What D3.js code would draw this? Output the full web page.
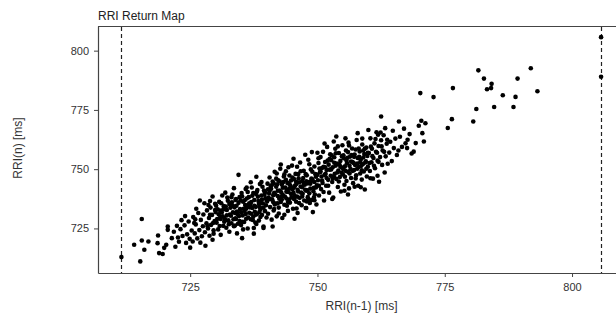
<!DOCTYPE html>
<html>
<head>
<meta charset="utf-8">
<script src="https://cdn.jsdelivr.net/npm/d3@7"></script>
<style>
  body { margin: 0; background: #fff; }
  #chart svg { display: block; font-family: "Liberation Sans", Arial, sans-serif; }
</style>
</head>
<body>
<div id="chart"></div>
<script>
// Data: RR interval return map, [RRI(n-1), RRI(n)] in ms
const rrPairs = [
  [711.5,712.9],[715.2,711.1],[715.5,729.0],[714.0,718.1],[715.5,719.9],[716.8,719.5],[716.0,716.0],
  [718.9,714.6],[719.6,714.2],[718.6,718.8],[720.3,718.1],[718.7,722.0],[720.6,725.8],[720.6,724.4],
  [721.4,720.9],[722.1,717.3],[721.8,723.6],[719.9,716.8],[722.6,721.2],
  [722.8,719.4],[723.1,724.7],[723.5,721.8],[723.9,726.3],[724.2,718.9],[724.4,722.5],[724.7,727.9],
  [724.9,720.6],[725.3,724.1],[725.5,719.5],[725.6,729.8],[725.9,722.9],[726.1,726.7],[726.4,720.8],
  [726.6,731.5],[726.9,736.8],[726.8,724.3],[727.1,728.6],[727.3,721.7],[727.5,725.9],[727.6,730.9],
  [727.9,723.4],[728.0,717.7],[728.2,727.2],[728.3,732.6],[728.5,725.0],[728.7,729.4],[728.8,721.9],
  [729.0,733.8],[729.1,726.5],[729.4,720.2],[729.4,738.5],[729.3,730.7],[729.6,724.2],[729.8,728.1],
  [729.9,735.4],[730.0,731.9],[724.0,730.2],[725.0,716.9],[726.2,733.3],[727.0,719.0],[728.6,734.9],
  [723.3,728.5],[722.4,726.1],[726.0,728.9],[727.8,735.6],[729.6,722.8],[728.9,736.6],[725.8,727.3],
  [730.2,727.4],[730.4,733.1],[730.5,724.6],[730.7,736.2],[730.9,729.8],[731.0,722.3],[731.2,731.7],
  [731.3,738.9],[731.5,726.1],[731.6,734.4],[731.8,729.0],[731.9,740.1],[732.1,725.3],[732.2,732.8],
  [732.4,736.7],[732.5,728.4],[732.7,723.6],[732.8,730.9],[733.0,735.1],[733.1,727.2],[733.3,739.3],
  [733.4,731.8],[733.6,725.9],[733.7,733.9],[733.9,729.3],[734.0,737.4],[734.2,722.9],[734.3,731.0],
  [734.5,747.6],[734.5,735.8],[734.7,728.1],[734.8,733.2],[735.0,726.4],[735.1,739.9],[735.3,730.5],
  [735.4,736.3],[735.6,727.7],[735.7,732.4],[735.9,741.6],[736.0,729.1],[736.2,734.7],[736.3,725.0],
  [736.5,738.2],[736.6,731.6],[736.8,735.0],[736.9,728.9],[737.1,742.3],[737.2,733.6],[737.4,730.0],
  [737.5,722.8],[737.6,737.0],[737.8,727.5],[737.9,734.1],[738.1,740.5],[738.2,731.2],[738.4,736.6],
  [738.5,728.3],[738.7,743.7],[738.8,733.0],[739.0,738.9],[739.1,730.7],[739.3,735.5],[739.4,725.2],
  [739.5,741.0],[739.7,732.3],[739.8,737.7],[740.0,729.6],[730.6,731.0],[731.1,735.6],[731.7,727.8],
  [732.3,738.0],[732.9,733.7],[733.5,728.9],[734.1,734.6],[734.6,730.2],[735.2,738.6],[735.8,734.9],
  [736.4,729.6],[737.0,736.1],[737.7,732.0],[738.3,738.4],[738.9,735.9],[739.6,739.2],[730.8,726.0],
  [731.4,730.1],[732.0,734.2],[732.6,726.8],[733.2,736.0],[733.8,731.5],[734.4,727.0],[734.9,736.9],
  [735.5,733.3],[736.1,737.6],[736.7,733.9],[737.3,728.6],[737.9,739.6],[738.6,731.9],[739.2,742.6],
  [739.9,734.8],[733.6,742.0],[736.9,744.5],[738.0,746.8],[737.5,725.2],[739.4,725.8],[735.2,720.9],
  [728.4,726.0],[728.9,730.8],[729.5,727.3],[730.1,734.6],[730.3,729.0],[730.9,732.5],[731.5,733.0],
  [731.9,728.5],[732.2,730.5],[732.7,735.3],[733.0,730.4],[733.4,734.6],[733.9,737.0],[734.2,732.1],
  [734.7,738.2],[735.0,731.8],[735.3,727.8],[735.7,736.9],[736.0,733.3],[736.3,740.4],[736.6,735.6],
  [737.0,731.2],[737.2,738.8],[737.6,734.6],[737.9,730.8],[738.2,741.2],[738.5,735.3],[738.8,729.8],
  [739.1,737.2],[739.4,733.7],[739.7,740.3],[740.0,737.1],[734.0,729.0],[735.9,731.1],[737.4,739.9],
  [738.7,733.9],[739.0,744.6],[736.1,742.3],[733.1,738.2],[731.0,729.0],[729.9,732.8],[733.8,726.2],
  [735.4,724.6],[738.0,726.9],
  [740.1,736.4],[740.2,743.9],[740.3,731.2],[740.5,739.8],[740.6,746.5],[740.7,734.0],[740.9,741.7],
  [741.0,728.7],[741.1,737.3],[741.2,744.8],[741.2,725.8],[741.4,732.6],[741.5,740.0],[741.6,748.9],
  [741.8,735.5],[741.9,742.6],[742.0,730.1],[742.2,738.7],[742.3,745.3],[742.4,733.8],[742.6,741.0],
  [742.7,750.2],[742.8,736.2],[743.0,743.5],[743.1,729.4],[743.2,739.1],[743.4,746.9],[743.5,730.8],
  [743.5,735.0],[743.7,742.3],[743.8,749.1],[743.9,737.6],[744.1,744.2],[744.2,732.4],[744.3,740.4],
  [744.5,747.3],[744.6,735.9],[744.7,743.0],[744.9,738.1],[745.0,751.5],[745.1,741.5],[745.2,733.3],
  [745.4,745.8],[745.5,729.1],[745.5,738.9],[745.7,748.0],[745.8,736.3],[745.9,743.8],[746.1,731.5],
  [746.2,740.6],[746.3,746.2],[746.5,737.9],[746.6,752.8],[746.7,742.7],[746.9,734.8],[747.0,745.0],
  [747.1,739.6],[747.3,749.3],[747.4,736.8],[747.5,743.4],[747.7,733.6],[747.8,733.6],[747.8,740.9],
  [747.9,747.4],[748.1,738.2],[748.2,754.0],[748.3,744.6],[748.5,735.7],[748.6,741.8],[748.7,749.9],
  [748.9,737.0],[749.0,745.7],[749.1,731.9],[749.3,742.1],[749.4,751.1],[749.5,739.3],[749.7,746.8],
  [749.8,735.1],[749.9,743.2],[740.4,738.0],[740.8,742.9],[741.3,736.1],[741.7,739.4],[742.1,743.6],
  [742.5,737.5],[742.9,740.2],[743.3,744.6],[743.6,738.5],[744.0,741.4],[744.4,737.2],[744.8,745.2],
  [745.3,740.0],[745.6,743.1],[746.0,738.4],[746.4,744.5],[746.8,740.1],[747.2,746.3],[747.6,741.3],
  [748.0,744.0],[748.4,739.8],[748.8,746.0],[749.2,740.7],[749.6,747.9],[740.6,740.8],[741.4,744.0],
  [742.2,740.9],[743.0,737.2],[743.8,745.5],[744.6,741.9],[745.4,742.4],[746.2,747.9],[747.0,742.4],
  [747.8,744.9],[748.6,743.9],[749.4,744.6],[742.8,752.0],[745.3,754.4],[747.6,756.1],[748.9,757.2],
  [740.3,741.5],[740.7,737.3],[741.0,743.2],[741.3,739.0],[741.6,735.1],[741.9,746.0],[742.2,735.6],
  [742.6,744.8],[742.9,738.4],[743.2,742.2],[743.5,747.8],[743.9,740.5],[744.2,736.1],[744.5,743.7],
  [744.8,739.6],[745.1,746.5],[745.4,737.4],[745.8,744.7],[746.1,741.3],[746.4,735.7],[746.7,749.1],
  [747.0,738.5],[747.3,743.9],[747.7,747.9],[748.0,741.1],[748.3,737.2],[748.7,744.8],[749.0,748.9],
  [749.3,738.1],[749.7,742.3],[741.5,733.2],[742.4,731.3],[744.0,734.6],[745.9,733.4],[747.9,736.4],
  [749.4,736.9],[742.0,748.2],[744.3,750.8],[746.0,751.0],[748.4,752.1],
  [750.1,745.3],[750.2,752.6],[750.3,738.9],[750.5,748.7],[750.6,755.1],[750.7,741.6],[750.9,750.5],
  [751.0,744.2],[751.1,757.3],[751.3,736.8],[751.4,747.6],[751.5,753.0],[751.7,743.0],[751.8,749.7],
  [751.9,759.4],[752.1,745.5],[752.2,751.9],[752.3,740.1],[752.5,756.3],[752.6,747.2],[752.7,753.8],
  [752.9,744.6],[753.0,750.8],[753.1,738.0],[753.3,755.0],[753.4,748.1],[753.5,758.6],[753.7,745.9],
  [753.8,752.4],[753.7,763.8],[754.0,742.5],[754.1,749.4],[754.2,756.8],[754.4,746.7],[754.5,753.5],
  [754.6,740.6],[754.8,750.7],[754.9,760.1],[755.0,747.8],[755.2,754.6],[755.3,743.4],[755.4,751.2],
  [755.6,757.9],[755.7,745.0],[755.8,752.5],[756.0,748.9],[756.1,761.2],[756.2,741.9],[756.4,755.3],
  [756.5,750.0],[756.6,746.3],[756.8,758.7],[756.9,753.0],[757.0,744.1],[757.2,749.6],[757.3,756.2],
  [757.4,751.8],[757.6,747.4],[757.7,762.3],[757.9,754.7],[757.9,765.2],[758.0,743.0],[758.1,750.9],
  [758.3,757.5],[758.4,748.2],[758.5,754.0],[758.7,745.6],[758.8,760.4],[758.9,752.1],[759.1,749.0],
  [759.2,756.4],[759.3,741.4],[759.5,753.3],[759.6,759.1],[759.7,746.9],[759.9,751.0],[750.4,750.3],
  [750.8,746.9],[751.2,751.0],[751.6,748.0],[752.0,753.6],[752.4,749.8],[752.8,755.9],[753.2,747.0],
  [753.6,751.5],[754.3,752.1],[754.7,748.5],[755.1,755.9],[755.5,749.3],[755.9,754.8],[756.3,751.4],
  [756.7,756.0],[757.1,752.6],[757.5,758.3],[757.8,750.2],[758.2,755.2],[758.6,751.4],[759.0,757.9],
  [759.4,752.8],[759.8,755.6],[750.0,756.9],[751.4,760.8],[753.2,761.7],[755.5,763.0],[752.9,737.4],
  [756.0,739.3],[758.5,742.4],[750.0,747.6],[750.3,743.0],[750.6,749.1],[750.9,745.2],[751.2,740.4],
  [751.5,750.8],[751.8,746.3],[752.1,743.0],[750.2,754.6],[752.4,754.4],[752.7,749.9],[753.0,746.2],
  [753.3,752.7],[753.6,756.7],[753.9,748.6],[754.2,744.8],[754.5,751.0],[754.8,755.5],[755.1,749.9],
  [755.4,746.8],[755.7,753.7],[756.0,757.2],[756.3,748.2],[756.6,753.2],[756.9,749.3],[757.2,755.2],
  [757.5,746.1],[757.8,752.4],[758.1,758.7],[758.4,752.9],[758.7,749.5],[759.0,754.9],[759.3,758.6],
  [759.6,750.2],[759.9,756.9],[754.0,759.6],[756.2,760.0],[758.8,762.9],[755.3,740.9],[757.3,742.6],
  [760.1,756.8],[760.3,749.2],[760.4,763.0],[760.6,752.9],[760.7,758.6],[760.9,746.0],[761.0,754.7],
  [761.2,760.9],[761.3,750.4],[761.5,757.3],[761.6,765.6],[761.8,753.6],[761.8,747.2],[762.0,759.8],
  [762.1,744.7],[762.3,755.1],[762.4,765.5],[762.5,762.2],[762.5,772.2],[762.7,751.8],[762.8,757.9],
  [763.0,764.3],[763.2,748.6],[763.3,767.3],[763.4,755.4],[763.6,760.7],[763.8,752.3],[761.9,764.5],
  [764.1,757.0],[764.3,761.6],[764.6,753.4],[764.8,766.2],[765.0,758.9],[765.3,762.9],[765.6,756.0],
  [765.9,757.9],[766.0,770.1],[766.2,763.7],[766.6,759.4],[767.0,767.1],[767.3,760.9],[767.6,758.9],
  [767.7,762.4],[768.1,764.8],[768.5,756.6],[768.9,757.4],[769.3,761.0],[769.9,768.3],[770.2,782.1],
  [760.2,752.6],[760.5,759.5],[760.8,755.5],[761.1,751.4],[761.4,762.7],[761.7,756.9],[762.0,753.1],
  [762.6,759.6],[763.1,757.3],[763.7,762.4],[760.0,766.5],[760.4,746.2],
  [770.4,770.4],[770.6,765.2],[770.9,761.7],[771.2,769.4],[772.8,780.4],[775.6,767.4],[776.4,771.1],
  [776.6,784.2],[780.6,770.1],[781.2,775.4],[781.6,791.7],[782.7,788.2],[783.3,783.7],[784.1,784.2],
  [784.2,786.0],[784.7,776.2],[786.4,781.2],[788.5,776.2],[788.9,780.5],[789.3,788.2],[791.9,792.6],
  [793.2,782.9],[805.7,805.7],[805.7,789.0]
];

const rriMin = 711.5;
const rriMax = 805.7;

const xTicks = [725, 750, 775, 800];
const yTicks = [725, 750, 775, 800];

const xDomain = [706.9, 810.4];
const yDomain = [706.2, 810.4];

// Dimensions
const dimensions = {
  width: 616,
  height: 320,
  marginTop: 26,
  marginLeft: 98,
  ctrWidth: 527,
  ctrHeight: 247,
};

const svg = d3
  .select("#chart")
  .append("svg")
  .attr("width", dimensions.width)
  .attr("height", dimensions.height);

const ctr = svg
  .append("g")
  .attr("transform", `translate(${dimensions.marginLeft}, ${dimensions.marginTop})`);

// Scales
const xScale = d3.scaleLinear().domain(xDomain).range([0, dimensions.ctrWidth]);
const yScale = d3.scaleLinear().domain(yDomain).range([dimensions.ctrHeight, 0]);

// Top frame line
ctr
  .append("line")
  .attr("x1", 0)
  .attr("x2", dimensions.ctrWidth)
  .attr("y1", 0.5)
  .attr("y2", 0.5)
  .attr("stroke", "#444")
  .attr("stroke-width", 1.2);

// Min / max lines
ctr
  .selectAll(".bound")
  .data([rriMin, rriMax])
  .join("line")
  .attr("class", "bound")
  .attr("x1", (d) => Math.round(xScale(d)) + 0.5)
  .attr("x2", (d) => Math.round(xScale(d)) + 0.5)
  .attr("y1", 1)
  .attr("y2", dimensions.ctrHeight)
  .attr("stroke", "#222")
  .attr("stroke-width", 1.2)
  .attr("stroke-dasharray", "4,3");

// Points
ctr
  .append("g")
  .selectAll("circle")
  .data(rrPairs)
  .join("circle")
  .attr("cx", (d) => xScale(d[0]))
  .attr("cy", (d) => yScale(d[1]))
  .attr("r", 2.3)
  .attr("fill", "#000");

// Axes
const xAxis = d3.axisBottom(xScale).tickValues(xTicks).tickSize(4).tickSizeOuter(0).tickPadding(6);
const yAxis = d3.axisLeft(yScale).tickValues(yTicks).tickSize(4).tickSizeOuter(0).tickPadding(5);

const xAxisGroup = ctr
  .append("g")
  .attr("transform", `translate(0, ${dimensions.ctrHeight})`)
  .call(xAxis);

const yAxisGroup = ctr.append("g").call(yAxis);

[xAxisGroup, yAxisGroup].forEach((g) => {
  g.select(".domain").attr("stroke", "#444").attr("stroke-width", 1.2);
  g.selectAll(".tick line").attr("stroke", "#444");
  g.selectAll(".tick text")
    .attr("fill", "#333")
    .style("font-size", "11px")
    .style("font-family", '"Liberation Sans", Arial, sans-serif');
});

// Labels
svg
  .append("text")
  .attr("x", 98)
  .attr("y", 20)
  .attr("fill", "#222")
  .style("font-size", "12px")
  .text("RRI Return Map");

svg
  .append("text")
  .attr("x", dimensions.marginLeft + dimensions.ctrWidth / 2)
  .attr("y", 310)
  .attr("text-anchor", "middle")
  .attr("fill", "#333")
  .style("font-size", "12px")
  .text("RRI(n-1) [ms]");

svg
  .append("text")
  .attr("transform", "translate(22, 148) rotate(-90)")
  .attr("text-anchor", "middle")
  .attr("fill", "#333")
  .style("font-size", "12px")
  .text("RRI(n) [ms]");
</script>
</body>
</html>
